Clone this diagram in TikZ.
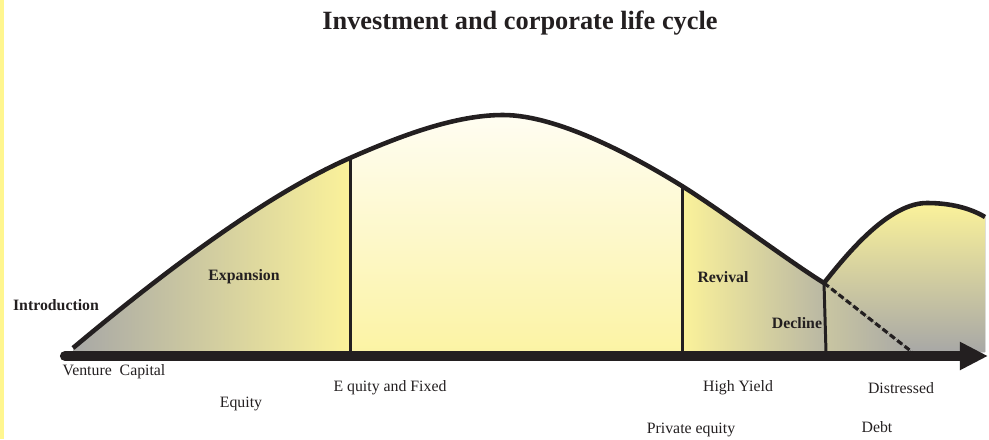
\documentclass[tikz,border=0pt]{standalone}
\usepackage{fontspec}
\setmainfont{Liberation Serif}
\usepackage{xcolor}
\usetikzlibrary{arrows.meta,calc}

\definecolor{ink}{HTML}{231F20}
\definecolor{lemon}{HTML}{FBF29A}
\definecolor{cream}{HTML}{FFFDF2}
\definecolor{ash}{HTML}{A8A8A6}
\definecolor{stripe}{HTML}{FFF68F}

\begin{document}
\begin{tikzpicture}[x=0.02cm,y=-0.02cm,
    stage/.style={font=\fontsize{9}{10}\selectfont\bfseries,text=ink,inner sep=0pt},
    fund/.style={font=\fontsize{9}{10}\selectfont,text=ink,inner sep=0pt},
    curve/.style={draw=ink,line width=2.6pt,line join=round},
    divider/.style={draw=ink,line width=1.7pt}]
    \useasboundingbox (0,0) rectangle (989,439);
    \fill[stripe] (0,0) rectangle (4,439);

    % key points of the curve
    \coordinate (start)   at (73,348);
    \coordinate (growth)  at (350,158);
    \coordinate (peak)    at (503,115);
    \coordinate (mature)  at (682,186);
    \coordinate (low)     at (824,283);
    \coordinate (rebound) at (927,203);
    \coordinate (last)    at (985,217);
    \coordinate (dashend) at (912,352);

    % fills
    \fill[left color=ash,right color=lemon]
      (start) .. controls (160,275) and (265,195) .. (growth) -- (350,352) -- (73,352) -- cycle;
    \fill[top color=cream,bottom color=lemon!90]
      (growth) .. controls (400,136) and (455,115) .. (peak)
      .. controls (560,115) and (640,160) .. (mature) -- (682,352) -- (350,352) -- cycle;
    \fill[left color=lemon,right color=ash!80!lemon]
      (mature) .. controls (722,211) and (790,262) .. (low) -- (826,352) -- (682,352) -- cycle;
    \fill[top color=lemon,bottom color=ash]
      (low) .. controls (850,250) and (890,203) .. (rebound)
      .. controls (950,203) and (970,208) .. (last) -- (985,352) -- (dashend) -- cycle;
    \fill[left color=ash!60!lemon,right color=ash]
      (low) -- (dashend) -- (826,352) -- cycle;

    % outline
    \draw[curve] (start) .. controls (160,275) and (265,195) .. (growth)
      .. controls (400,136) and (455,115) .. (peak)
      .. controls (560,115) and (640,160) .. (mature)
      .. controls (722,211) and (790,262) .. (low)
      .. controls (850,250) and (890,203) .. (rebound)
      .. controls (950,203) and (970,208) .. (last);
    \draw[divider] (growth) -- (350,352);
    \draw[divider] (mature) -- (682,352);
    \draw[divider] (low) -- (826,352);
    \draw[draw=ink,line width=1.8pt,dash pattern=on 3.5pt off 1.8pt] (low) -- (dashend);

    % time axis
    \coordinate (axisL) at (65,356);
    \coordinate (axisR) at (988,356);
    \draw[ink,line width=5.8pt,line cap=round,
      -{Triangle[length=16pt,width=15pt]}] (axisL) -- (axisR);

    % title and stages
    \node[font=\fontsize{15}{17}\selectfont\bfseries,text=ink] (title) at (520,23)
      {Investment and corporate life cycle};
    \node[stage] (intro)   at (56,305) {Introduction};
    \node[stage] (expand)  at (244,277) {Expansion};
    \node[stage] (revival) at (723,277) {Revival};
    \node[stage] (decline) at (797,323) {Decline};

    % financing
    \node[fund] (vc)      at (114,372) {Venture\ \ Capital};
    \node[fund] (equity)  at (241,404) {Equity};
    \node[fund] (fixed)   at (390,388) {E quity and Fixed};
    \node[fund] (hy)      at (738,388) {High Yield};
    \node[fund] (pe)      at (691,430) {Private equity};
    \node[fund] (distr)   at (901,388) {Distressed};
    \node[fund] (debt)    at (877,427) {Debt};
\end{tikzpicture}
\end{document}
